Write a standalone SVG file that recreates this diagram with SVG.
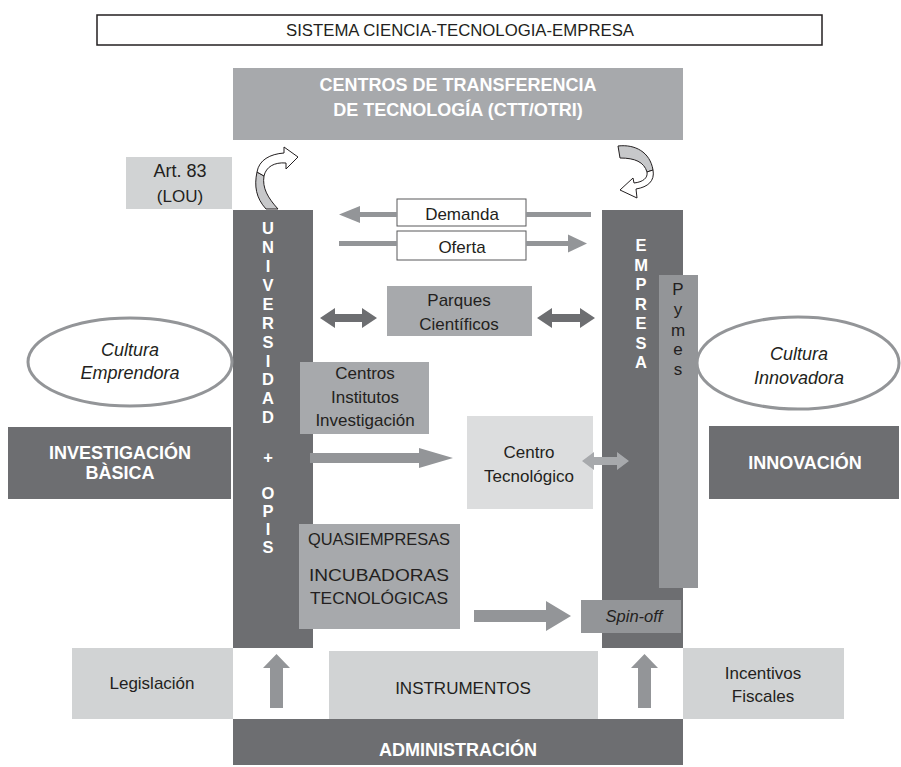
<svg xmlns="http://www.w3.org/2000/svg" width="901" height="767" viewBox="0 0 901 767">
<style>
text{font-family:"Liberation Sans",Arial,sans-serif;text-anchor:middle}
.r{font-size:17px;fill:#231f20}
.w{font-weight:bold;fill:#fff;font-size:18px}
.it{font-style:italic;font-size:18px;fill:#231f20}
.v{font-weight:bold;fill:#fff;font-size:16.5px}
.dark{fill:#6d6e71}
.mid{fill:#939598}
.lm{fill:#a7a9ac}
.lt{fill:#d1d3d4}
.lst{fill:#dcddde}
.wb{fill:#fff;stroke:#58595b;stroke-width:1}
.ell{fill:#fff;stroke:#939598;stroke-width:3}
.back{fill:#c7c8ca;stroke:#231f20;stroke-width:1}
.front{fill:#fff;stroke:#231f20;stroke-width:1}
</style>
<rect width="901" height="767" fill="#fff"/>

<g id="title">
<rect x="97" y="15" width="725" height="30" fill="#fff" stroke="#231f20" stroke-width="1.5"/>
<text x="460" y="36" class="r" style="font-size:16px" textLength="348" lengthAdjust="spacingAndGlyphs">SISTEMA CIENCIA-TECNOLOGIA-EMPRESA</text>
</g>

<g id="ctt">
<rect x="233" y="68" width="450" height="72" class="lm"/>
<text x="458" y="91" class="w">CENTROS DE TRANSFERENCIA</text>
<text x="458" y="116" class="w">DE TECNOLOGÍA (CTT/OTRI)</text>
</g>

<g id="art83">
<rect x="126" y="157" width="106" height="52" class="lt"/>
<text x="180" y="177" class="r" style="font-size:18px">Art. 83</text>
<text x="180" y="202" class="r">(LOU)</text>
</g>

<g id="universidad">
<rect x="233" y="210" width="80" height="438" class="dark"/>
<text x="268" y="234" class="v">U</text>
<text x="268" y="253" class="v">N</text>
<text x="268" y="272" class="v">I</text>
<text x="268" y="291" class="v">V</text>
<text x="268" y="310" class="v">E</text>
<text x="268" y="329" class="v">R</text>
<text x="268" y="348" class="v">S</text>
<text x="268" y="367" class="v">I</text>
<text x="268" y="385" class="v">D</text>
<text x="268" y="404" class="v">A</text>
<text x="268" y="423" class="v">D</text>
<text x="268" y="463" class="v">+</text>
<text x="268" y="499" class="v">O</text>
<text x="268" y="517" class="v">P</text>
<text x="268" y="535" class="v">I</text>
<text x="268" y="553" class="v">S</text>
</g>

<g id="empresa">
<rect x="602" y="210" width="81" height="438" class="dark"/>
<text x="641" y="251" class="v">E</text>
<text x="641" y="271" class="v">M</text>
<text x="641" y="290" class="v">P</text>
<text x="641" y="310" class="v">R</text>
<text x="641" y="329" class="v">E</text>
<text x="641" y="349" class="v">S</text>
<text x="641" y="368" class="v">A</text>
</g>

<g id="pymes">
<rect x="659" y="275" width="39" height="313" class="mid"/>
<text x="678" y="295" class="r">P</text>
<text x="678" y="315" class="r">y</text>
<text x="678" y="336" class="r">m</text>
<text x="678" y="355" class="r">e</text>
<text x="678" y="375" class="r">s</text>
</g>

<g id="demanda">
<rect x="397" y="199" width="129" height="27" class="wb"/>
<text x="462" y="220" class="r">Demanda</text>
</g>

<g id="oferta">
<rect x="397" y="231" width="129" height="29" class="wb"/>
<text x="462" y="253" class="r">Oferta</text>
</g>

<g id="parques">
<rect x="387" y="286" width="145" height="50" class="lm"/>
<text x="459" y="306" class="r">Parques</text>
<text x="459" y="330" class="r">Científicos</text>
</g>

<g id="centros">
<rect x="300" y="362" width="129" height="72" class="lm"/>
<text x="365" y="379" class="r">Centros</text>
<text x="365" y="403" class="r">Institutos</text>
<text x="365" y="426" class="r">Investigación</text>
</g>

<g id="centro-tecnologico">
<rect x="467" y="416" width="126" height="93" class="lst"/>
<text x="529" y="458" class="r">Centro</text>
<text x="529" y="482" class="r">Tecnológico</text>
</g>

<g id="quasiempresas">
<rect x="299" y="524" width="161" height="105" class="lm"/>
<text x="379" y="545" class="r" textLength="142" lengthAdjust="spacingAndGlyphs">QUASIEMPRESAS</text>
<text x="379" y="581" class="r" textLength="140" lengthAdjust="spacingAndGlyphs">INCUBADORAS</text>
<text x="379" y="604" class="r" textLength="138" lengthAdjust="spacingAndGlyphs">TECNOLÓGICAS</text>
</g>

<g id="spinoff">
<rect x="581" y="600" width="100" height="33" class="mid"/>
<text x="634" y="622" class="it" style="font-size:16.5px">Spin-off</text>
</g>

<g id="cultura-emprendora">
<ellipse cx="130" cy="362" rx="102" ry="44" class="ell"/>
<text x="130" y="356" class="it">Cultura</text>
<text x="130" y="379" class="it">Emprendora</text>
</g>

<g id="cultura-innovadora">
<ellipse cx="798" cy="363" rx="101" ry="46" class="ell"/>
<text x="799" y="360" class="it">Cultura</text>
<text x="799" y="384" class="it">Innovadora</text>
</g>

<g id="investigacion-basica">
<rect x="8" y="427" width="223" height="72" class="dark"/>
<text x="120" y="459" class="w">INVESTIGACIÓN</text>
<text x="120" y="479" class="w">BÀSICA</text>
</g>

<g id="innovacion">
<rect x="709" y="426" width="190" height="73" class="dark"/>
<text x="805" y="469" class="w">INNOVACIÓN</text>
</g>

<g id="legislacion">
<rect x="72" y="648" width="161" height="71" class="lt"/>
<text x="152" y="689" class="r">Legislación</text>
</g>

<g id="instrumentos">
<rect x="329" y="651" width="269" height="68" class="lt"/>
<text x="463" y="694" class="r">INSTRUMENTOS</text>
</g>

<g id="incentivos">
<rect x="683" y="648" width="161" height="71" class="lt"/>
<text x="763" y="679" class="r">Incentivos</text>
<text x="763" y="702" class="r">Fiscales</text>
</g>

<g id="administracion">
<rect x="233" y="719" width="450" height="46" class="dark"/>
<text x="458" y="756" class="w">ADMINISTRACIÓN</text>
</g>

<g id="connectors">
<!-- Demanda arrow (Empresa to Universidad) -->
<rect x="355" y="212" width="42" height="5" class="mid"/>
<rect x="526" y="212" width="65" height="5" class="mid"/>
<polygon points="339,214.5 360,206 360,223" class="mid"/>
<!-- Oferta arrow (Universidad to Empresa) -->
<rect x="339" y="241" width="58" height="5" class="mid"/>
<rect x="526" y="241" width="45" height="5" class="mid"/>
<polygon points="587,243.5 568,234.5 568,252.5" class="mid"/>
<!-- Parques double arrows -->
<polygon points="320,318 335,308 335,314 362,314 362,308 377,318 362,328 362,322 335,322 335,328" class="dark"/>
<polygon points="537,318 552,308 552,314 580,314 580,308 595,318 580,328 580,322 552,322 552,328" class="dark"/>
<!-- Universidad to Centro Tecnologico -->
<polygon points="310,453 419,453 419,448 453,458 419,468 419,463 310,463" class="mid"/>
<!-- Centro Tecnologico to Empresa -->
<polygon points="582,461 594,452 594,457 617,457 617,452 629,461 617,470 617,465 594,465 594,470" class="lm"/>
<!-- to Spin-off -->
<polygon points="474,610 546,610 546,601 571,616 546,631 546,622 474,622" class="mid"/>
<!-- up arrows -->
<polygon points="270,708 270,668 263,668 276.5,654 290,668 283,668 283,708" class="mid"/>
<polygon points="638,708 638,668 631,668 644.5,654 658,668 651,668 651,708" class="mid"/>
<!-- curved arrows -->
<path d="M266,209 L278,209 C268,198 262,188 264,176 L257,172 C254,186 256,198 266,209 Z" class="back"/>
<path d="M257,172 C259,160 270,154 284,153 L284,147 L298,157 L286,169 L286,163 C274,162 266,167 264,176 Z" class="front"/>
<path d="M618,146 C635,144 650,152 653,170 L647,172 C644,162 635,158 620,158 Z" class="back"/>
<path d="M653,170 C655,181 648,187 636,189 L637,198 L620,190 L633,178 L634,183 C643,182 648,178 647,172 Z" class="front"/>
</g>
</svg>
